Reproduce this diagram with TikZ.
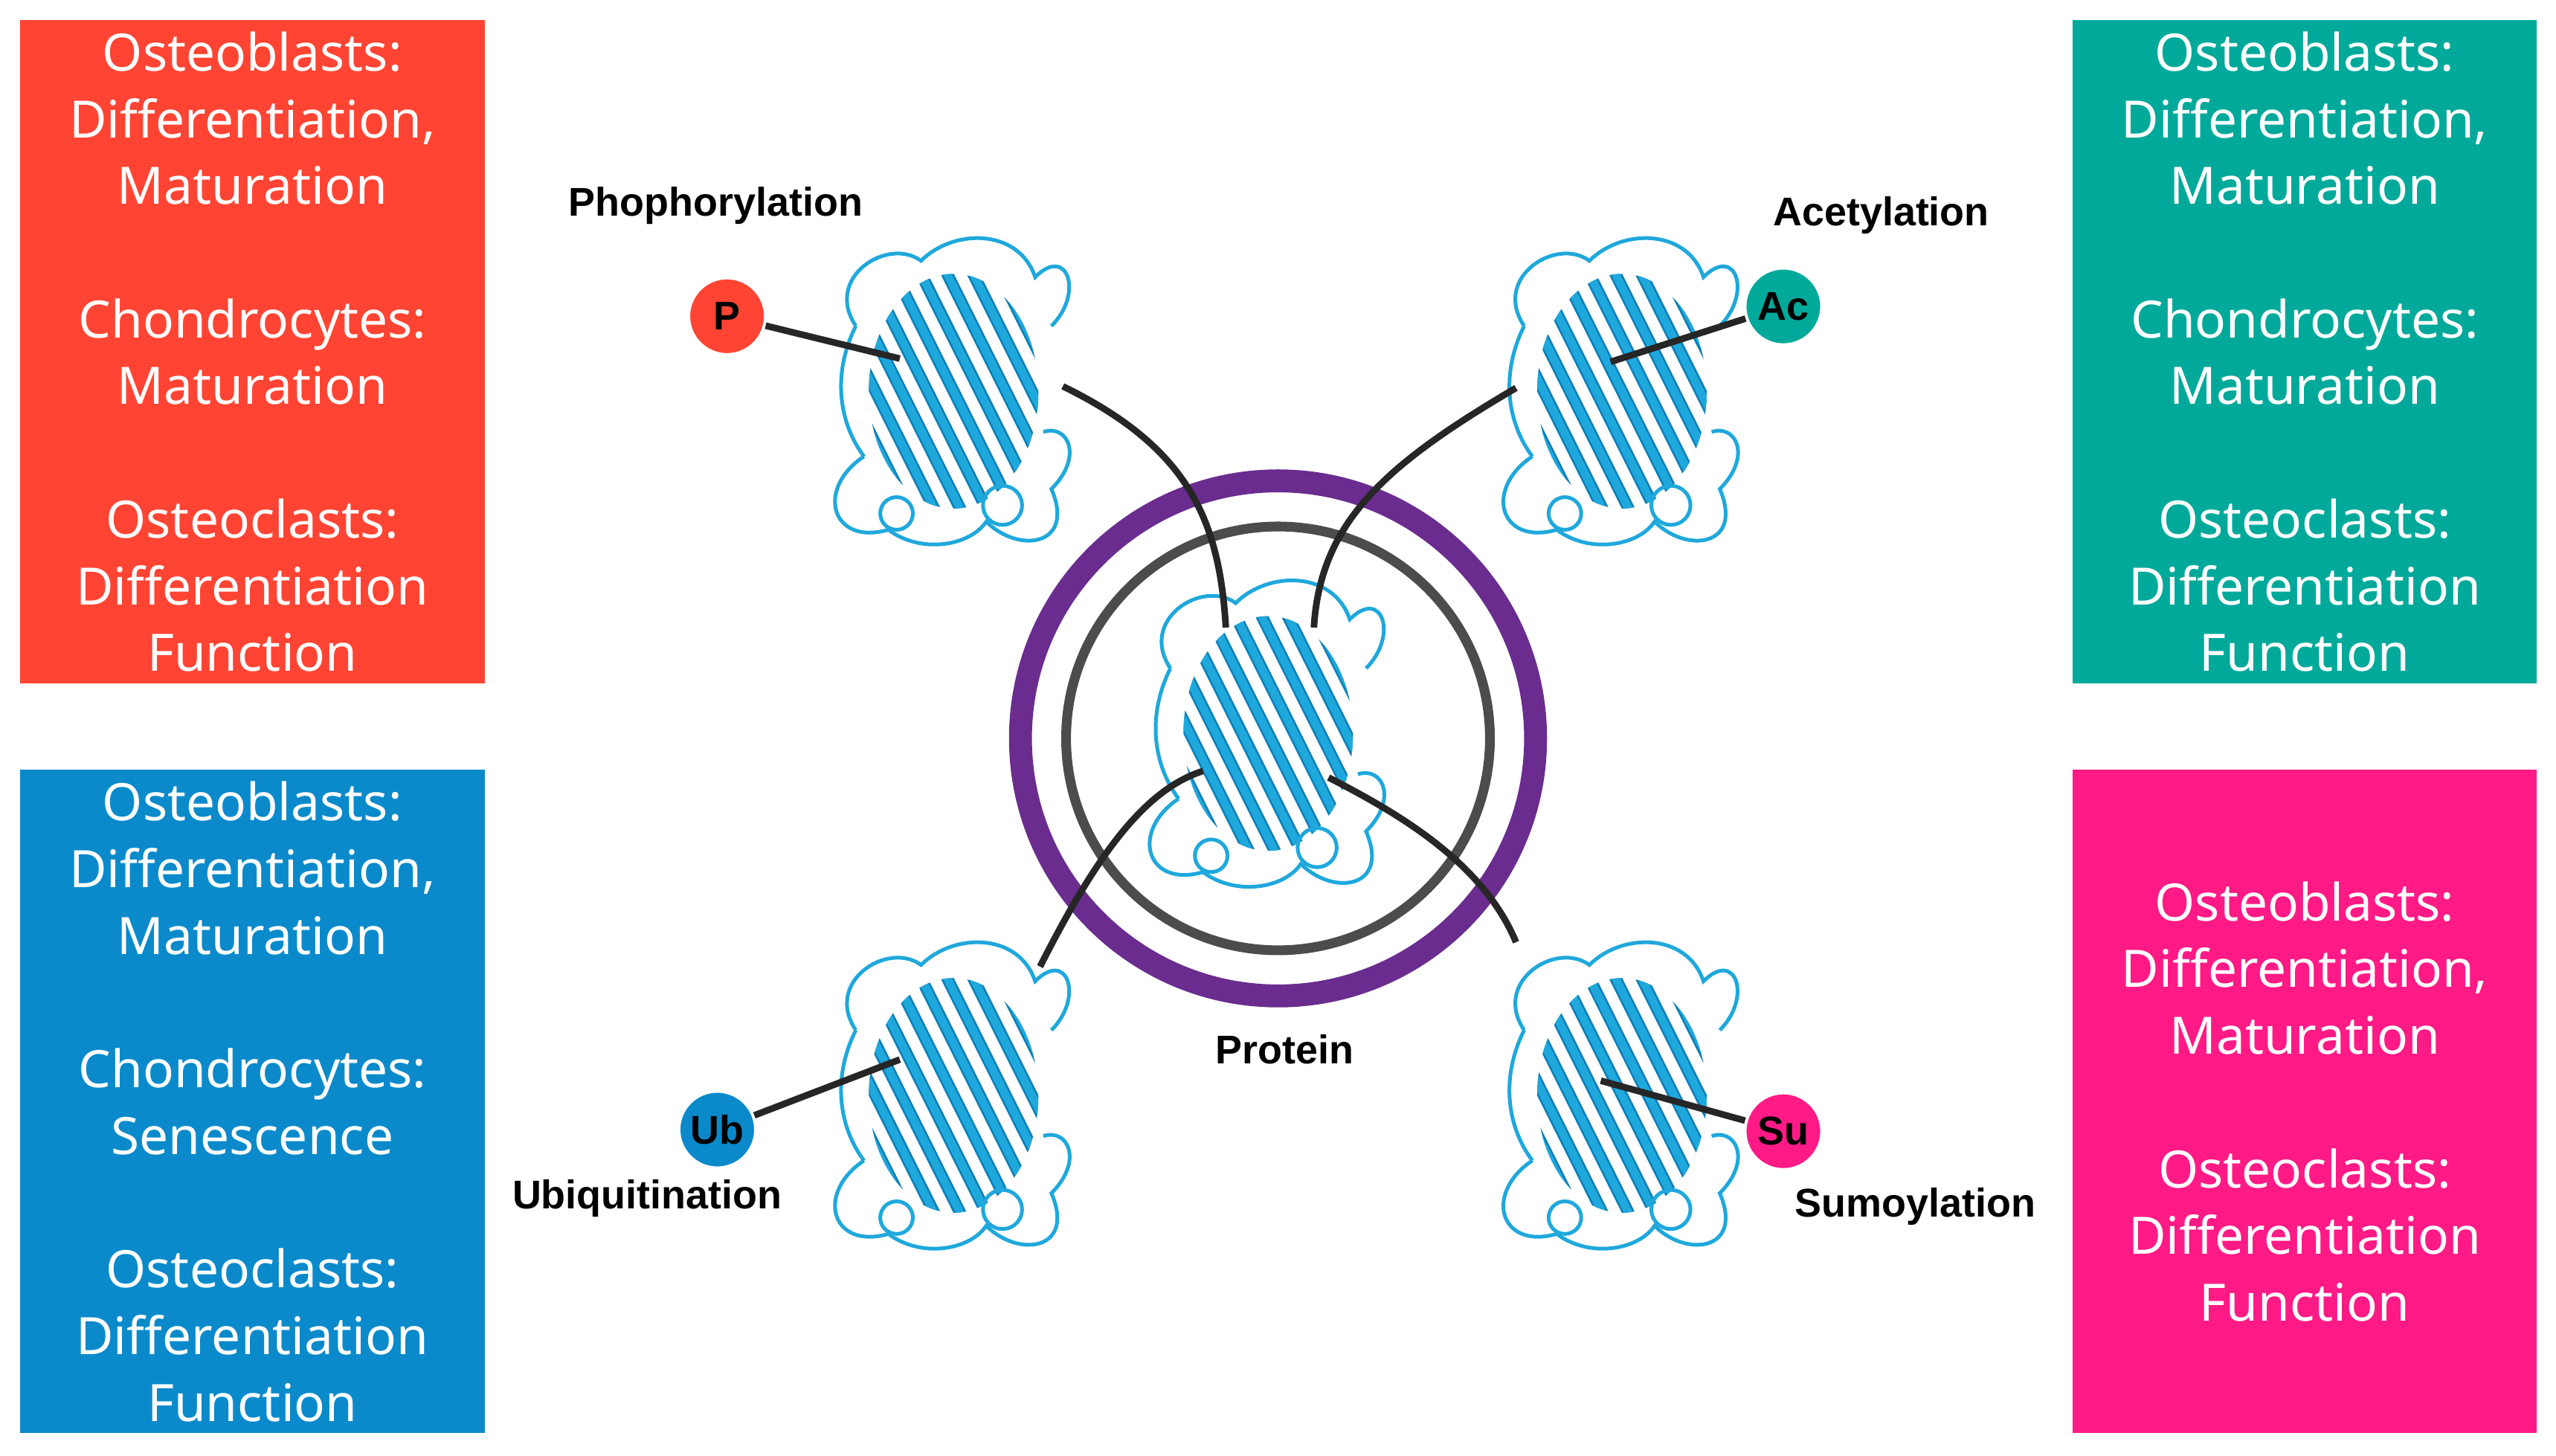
\documentclass[tikz,border=0pt]{standalone}
\usepackage{fontspec}
\setmainfont{Noto Sans}
\newfontfamily\lab{Liberation Sans}
\definecolor{cred}{HTML}{FF4433}
\definecolor{cteal}{HTML}{00A99A}
\definecolor{cblue}{HTML}{0A8ACB}
\definecolor{cpink}{HTML}{FF1A85}
\definecolor{cprot}{HTML}{1FA8DC}
\definecolor{cprotd}{HTML}{0F7FB8}
\definecolor{cpurp}{HTML}{6A2C8E}
\begin{document}
\begin{tikzpicture}[x=0.02cm,y=-0.02cm,
 box/.style={draw=none,inner sep=0,minimum width=5.7cm,minimum height=8.14cm,anchor=north west,text=white,align=center,font=\fontsize{18}{23.3}\selectfont},
 badge/.style={circle,draw=white,line width=1pt,minimum size=0.94cm,inner sep=0,font=\lab\bfseries\fontsize{14}{16}\selectfont,text=black},
 lbl/.style={font=\lab\bfseries\fontsize{14}{16}\selectfont},
 conn/.style={line width=2.3pt,draw=black!85},
 prot/.pic={
  \begin{scope}
   \clip (0,0) ellipse [x radius=52, y radius=72];
   \foreach \i in {-6,...,6}{
     \draw[cprotd,line width=4.2pt] (\i*16-40,-80) -- (\i*16+40,80);
     \draw[cprot,line width=2.8pt] (\i*16-40,-80) -- (\i*16+40,80);}
  \end{scope}
  \draw[cprot,line width=1.3pt] (-60,-40) .. controls (-80,-70) and (-40,-95) .. (-20,-80)
     .. controls (0,-100) and (40,-100) .. (50,-70) .. controls (70,-90) and (80,-60) .. (60,-40);
  \draw[cprot,line width=1.3pt] (-55,40) .. controls (-85,60) and (-75,95) .. (-40,85)
     .. controls (-20,100) and (10,95) .. (20,80) .. controls (40,100) and (75,95) .. (60,60)
     .. controls (80,40) and (70,20) .. (55,25);
  \draw[cprot,line width=1.3pt] (-60,-40) .. controls (-75,-10) and (-70,20) .. (-55,40);
  \draw[cprot,line width=1.3pt] (30,70) circle (12);
  \draw[cprot,line width=1.3pt] (-35,75) circle (10);
 }]
\useasboundingbox (0,0) rectangle (1568,893);
\node[box,fill=cred]  (rb) at (12,12) {Osteoblasts:\\Differentiation,\\Maturation\\[23.3pt]Chondrocytes:\\Maturation\\[23.3pt]Osteoclasts:\\Differentiation\\Function};
\node[box,fill=cteal] (tb) at (1271,12) {Osteoblasts:\\Differentiation,\\Maturation\\[23.3pt]Chondrocytes:\\Maturation\\[23.3pt]Osteoclasts:\\Differentiation\\Function};
\node[box,fill=cblue] (bb) at (12,472) {Osteoblasts:\\Differentiation,\\Maturation\\[23.3pt]Chondrocytes:\\Senescence\\[23.3pt]Osteoclasts:\\Differentiation\\Function};
\node[box,fill=cpink] (pb) at (1271,472) {Osteoblasts:\\Differentiation,\\Maturation\\[23.3pt]Osteoclasts:\\Differentiation\\Function};
\draw[cpurp,line width=8pt] (784,453) circle (158);
\draw[black!70,line width=3.4pt] (784,453) circle (130);
\pic at (585,240) {prot};
\pic at (995,240) {prot};
\pic at (778,450) {prot};
\pic at (585,672) {prot};
\pic at (995,672) {prot};
\coordinate (p1) at (552,220); \coordinate (a1) at (988,222);
\coordinate (u1) at (552,650); \coordinate (s1) at (982,663);
\draw[conn] (652,237) .. controls (730,275) and (748,320) .. (752,385);
\draw[conn] (930,238) .. controls (850,285) and (810,320) .. (806,385);
\draw[conn] (638,593) .. controls (670,530) and (700,485) .. (738,473);
\draw[conn] (930,578) .. controls (910,530) and (860,500) .. (815,477);
\node[badge,fill=cred] (P) at (446,194) {P};
\node[badge,fill=cteal] (Ac) at (1094,188) {Ac};
\node[badge,fill=cblue] (Ub) at (440,693) {Ub};
\node[badge,fill=cpink] (Su) at (1094,694) {Su};
\draw[conn] (P) -- (p1);
\draw[conn] (Ac) -- (a1);
\draw[conn] (Ub) -- (u1);
\draw[conn] (Su) -- (s1);
\node[lbl] (l1) at (439,126) {Phophorylation};
\node[lbl] (l2) at (1154,132) {Acetylation};
\node[lbl] (l3) at (788,644) {Protein};
\node[lbl] (l4) at (397,735) {Ubiquitination};
\node[lbl] (l5) at (1175,740) {Sumoylation};
\end{tikzpicture}
\end{document}
